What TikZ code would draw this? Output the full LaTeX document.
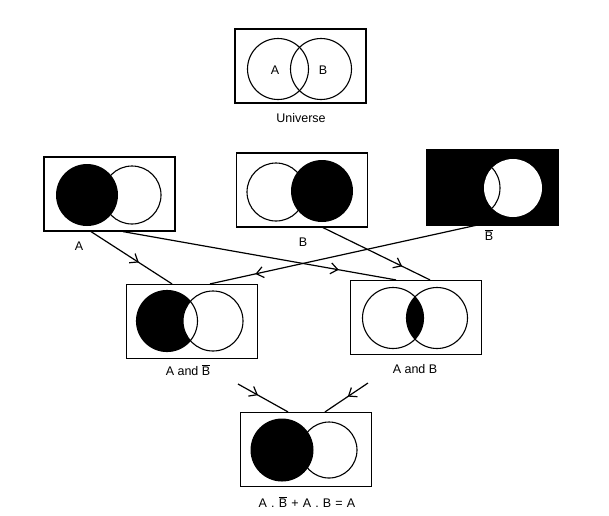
\documentclass[tikz,border=0pt]{standalone}
\usepackage{fontspec}
\setmainfont{Liberation Sans}
\usetikzlibrary{decorations.markings,arrows.meta,calc}
\newcommand{\Bbar}{$\overline{\mbox{B}}$}
\tikzset{
  box/.style={draw, line width=1.2pt, minimum width=131pt, minimum height=74pt, inner sep=0pt},
  lbl/.style={font=\fontsize{12.5}{14}\selectfont, inner sep=1pt},
  ring/.style={line width=1.1pt},
  conn/.style={line width=1.2pt, postaction={decorate}},
  tipat/.style={decoration={markings, mark=at position #1 with {\arrow{Straight Barb[length=7pt,width=11pt]}}}}
}
\begin{document}
\begin{tikzpicture}[x=1pt,y=-1pt]
\useasboundingbox (0,0) rectangle (609,515);
% boxes
\node[box] (U) at (300.5,66) {};
\node[box] (Ab) at (109.5,194) {};
\node[box] (Bb) at (302,190) {};
\node[box, fill=black] (Nb) at (492.5,187.5) {};
\node[box] (AN) at (192,321.5) {};
\node[box] (AB) at (416,317.5) {};
\node[box] (R) at (306,449.5) {};
% universe
\draw[ring] (278,69) circle[radius=30.5];
\draw[ring] (321,69) circle[radius=30.5];
\node[lbl] (ua) at (275,70) {A};
\node[lbl] (ub) at (323,70) {B};
% A box
\draw[ring] (132,195) circle[radius=29];
\fill (87,195) circle[radius=31];
% B box
\draw[ring] (276,192) circle[radius=29];
\fill (322,191) circle[radius=31];
% Bbar box
\fill[white] (513,188) circle[radius=29];
\begin{scope}
\clip (513,188) circle[radius=29];
\draw[ring] (470,188) circle[radius=30];
\end{scope}
\draw[line width=1.2pt] (Nb.south west) rectangle (Nb.north east);
% A and Bbar
\fill (167,321) circle[radius=30.5];
\fill[white] (213,321) circle[radius=30];
\draw[ring] (167,321) circle[radius=30.5];
\draw[ring] (213,321) circle[radius=30];
% A and B
\begin{scope}
\clip (393,318) circle[radius=30.5];
\fill (437,318) circle[radius=30.5];
\end{scope}
\draw[ring] (393,318) circle[radius=30.5];
\draw[ring] (437,318) circle[radius=30.5];
% result
\draw[ring] (329,450) circle[radius=28];
\fill (282,450) circle[radius=31.5];
% labels
\node[lbl] (lu) at (301,118) {Universe};
\node[lbl] (la) at (79,246) {A};
\node[lbl] (lb) at (303,242) {B};
\node[lbl] (ln) at (489,235) {\Bbar};
\node[lbl] (lan) at (188,370) {A and \Bbar};
\node[lbl] (lab) at (415,369) {A and B};
\node[lbl] (lr) at (307,502) {A\,\,.\,\,\Bbar\,\,+\,\,A\,\,.\,\,B\,\,=\,\,A};
% connectors
\draw[conn, tipat=0.59] ([xshift=-18.5pt]Ab.south) -- ([xshift=-20pt]AN.north);
\draw[conn, tipat=0.79] ([xshift=13.5pt]Ab.south) -- ([xshift=-20pt]AB.north);
\draw[conn, tipat=0.74] ([xshift=21pt]Bb.south) -- ([xshift=14pt]AB.north);
\draw[conn, tipat=0.83] ([xshift=-15.5pt]Nb.south) -- ([xshift=18pt]AN.north);
\coordinate (s5) at (238,384);
\coordinate (s6) at (368,383);
\draw[conn, tipat=0.4] (s5) -- ([xshift=-18pt]R.north);
\draw[conn, tipat=0.47] (s6) -- ([xshift=19pt]R.north);
\end{tikzpicture}
\end{document}
